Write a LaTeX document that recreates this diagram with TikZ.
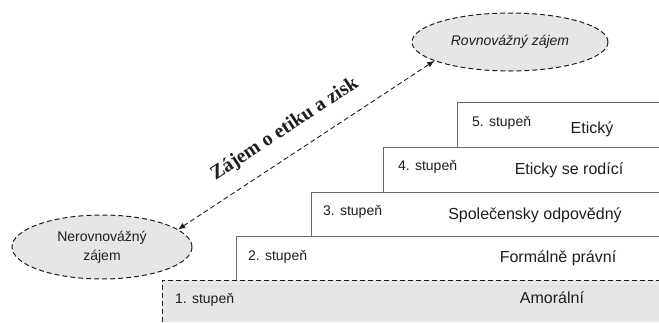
\documentclass[tikz,border=0pt]{standalone}
\usepackage{fontspec}
\setmainfont{Liberation Sans}
\newfontfamily\labserif{Liberation Serif}
\usetikzlibrary{shapes.geometric,arrows.meta}
\definecolor{fillgray}{HTML}{E6E6E6}
\definecolor{linegray}{HTML}{6A6A6A}
\definecolor{ink}{HTML}{1E1E1E}
\tikzset{
  oval/.style={ellipse, draw=ink, dash pattern=on 5pt off 3pt, line width=1pt, fill=fillgray, inner sep=0pt, text=ink, font=\fontsize{14}{19}\selectfont, align=center},
  steplab/.style={text=ink, font=\fontsize{14}{16}\selectfont, inner sep=0pt, anchor=west},
  levellab/.style={text=ink, font=\fontsize{16}{18}\selectfont, inner sep=0pt},
  steptop/.style={draw=linegray, line width=0.8pt},
  conn/.style={draw=ink, dash pattern=on 5pt off 3pt, line width=0.9pt, {Latex[length=7pt,width=6pt]}-{Latex[length=7pt,width=6pt]}}
}
\begin{document}
\begin{tikzpicture}[x=1pt,y=-1pt]
\useasboundingbox (0,0) rectangle (659,322);
% step 1
\fill[fillgray] (162,280) rectangle (659,322);
\draw[draw=ink, dash pattern=on 5pt off 3pt, line width=0.8pt] (162,322) -- (162,280) -- (659,280);
% step 2
\fill[white] (236,236) rectangle (659,280);
\draw[steptop] (236,280) -- (236,236) -- (659,236);
% step 3
\fill[white] (311,192) rectangle (659,236);
\draw[steptop] (311,236) -- (311,192) -- (659,192);
% step 4
\fill[white] (383,147) rectangle (659,192);
\draw[steptop] (383,192) -- (383,147) -- (659,147);
% step 5
\fill[white] (457,102) rectangle (659,147);
\draw[steptop] (457,147) -- (457,102) -- (659,102);

\node[steplab] (s5) at (472,123) {5. stupeň};
\node[levellab] (l5) at (592,129) {Etický};
\node[steplab] (s4) at (398,167) {4. stupeň};
\node[levellab] (l4) at (569,170) {Eticky se rodící};
\node[steplab] (s3) at (323,212) {3. stupeň};
\node[levellab] (l3) at (535,215) {Společensky odpovědný};
\node[steplab] (s2) at (248,257) {2. stupeň};
\node[levellab] (l2) at (558,258) {Formálně právní};
\node[steplab] (s1) at (175,300) {1. stupeň};
\node[levellab] (l1) at (552,298) {Amorální};

\node[oval, minimum width=196, minimum height=58] (rov) at (510,42) {\itshape Rovnovážný zájem};
\node[oval, minimum width=180, minimum height=64] (ner) at (102,247) {Nerovnovážný\\zájem};

\draw[conn] (ner.13.5) -- node[pos=0.47, sloped, above=25pt, anchor=center, text=ink, font=\labserif\bfseries\fontsize{20}{22}\selectfont, inner sep=0pt] (lab) {Zájem o etiku a zisk} (rov.194);
\end{tikzpicture}
\end{document}
